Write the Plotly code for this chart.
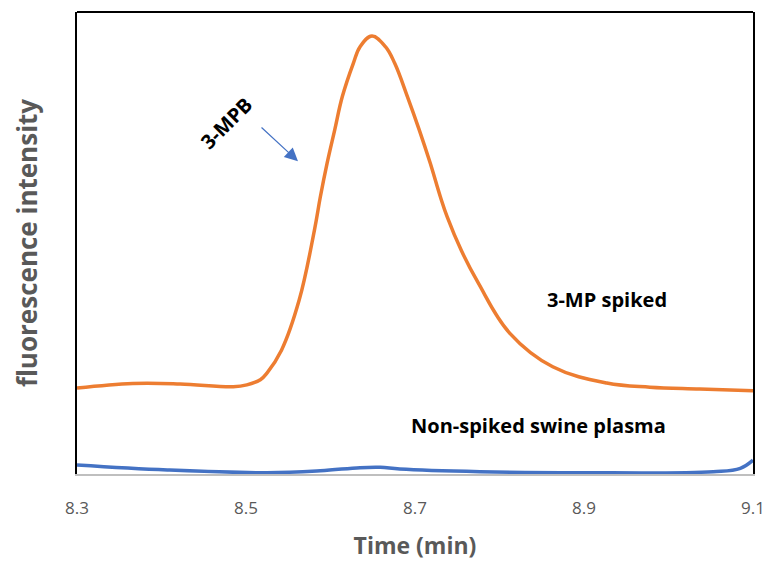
import plotly.graph_objects as go

# spiked sample (orange)
spiked_time = [8.300, 8.366, 8.422, 8.485, 8.501, 8.517, 8.525, 8.542, 8.563,
               8.581, 8.588, 8.596, 8.605, 8.614, 8.627, 8.635, 8.649,
               8.665, 8.676, 8.691, 8.705, 8.718, 8.730, 8.738, 8.755,
               8.775, 8.812, 8.863, 8.927, 8.978, 9.037, 9.100]
spiked_signal = [18.6, 19.6, 19.5, 18.9, 19.3, 20.4, 21.9, 26.8, 37.7,
                 52.8, 60.0, 67.3, 74.5, 81.7, 88.9, 92.5, 94.8,
                 92.5, 88.9, 81.7, 74.5, 67.3, 60.0, 55.7, 48.3,
                 41.3, 30.5, 23.2, 19.7, 18.8, 18.4, 18.0]

# non-spiked plasma (blue)
blank_time = [8.300, 8.407, 8.525, 8.588, 8.635, 8.659, 8.682, 8.777, 8.895, 9.053, 9.085, 9.100]
blank_signal = [1.95, 0.87, 0.28, 0.7, 1.37, 1.45, 1.08, 0.5, 0.28, 0.5, 1.23, 3.0]

x_ticks = [8.3, 8.5, 8.7, 8.9, 9.1]

fig = go.Figure()
fig.add_trace(go.Scatter(x=spiked_time, y=spiked_signal, mode='lines',
                         line=dict(color='#ED7D31', width=3.5, shape='spline', smoothing=1.1),
                         name='3-MP spiked'))
fig.add_trace(go.Scatter(x=blank_time, y=blank_signal, mode='lines',
                         line=dict(color='#4472C4', width=3.5, shape='spline', smoothing=1.1),
                         name='Non-spiked swine plasma'))

lbl = dict(family='Open Sans', size=20, color='black')
fig.add_annotation(x=8.4775, y=76, text='<b>3-MPB</b>', showarrow=False, textangle=-45, font=lbl)
fig.add_annotation(x=8.5615, y=67.7, ax=8.5166, ay=75.3, axref='x', ayref='y', text='',
                   showarrow=True, arrowhead=2, arrowsize=2.2, arrowwidth=1.2, arrowcolor='#4472C4')
fig.add_annotation(x=8.927, y=37.7, text='<b>3-MP spiked</b>', showarrow=False, font=lbl)
fig.add_annotation(x=8.8456, y=10.6, text='<b>Non-spiked swine plasma</b>', showarrow=False, font=lbl)

# top frame line
fig.add_shape(type='line', xref='paper', yref='paper', x0=0, x1=1, y0=1, y1=1,
              line=dict(color='black', width=2))

fig.update_layout(
    width=770, height=571,
    margin=dict(l=77, r=17, t=12, b=97),
    plot_bgcolor='white', paper_bgcolor='white',
    showlegend=False,
    font=dict(family='Open Sans', color='#595959'),
    xaxis=dict(range=[8.3, 9.1], tickvals=x_ticks, ticktext=[str(v) for v in x_ticks],
               showgrid=False, zeroline=False, showline=True, linecolor='#BFBFBF', linewidth=2,
               ticks='', ticklabelstandoff=18, tickfont=dict(size=17, color='#595959'),
               automargin=False,
               title=dict(text='<b>Time (min)</b>', font=dict(size=23, color='#595959'), standoff=19)),
    yaxis=dict(range=[0, 100], showticklabels=False, showgrid=False, zeroline=False,
               showline=True, mirror=True, linecolor='black', linewidth=2, ticks='',
               automargin=False,
               title=dict(text='<b>fluorescence intensity</b>', font=dict(size=26, color='#595959'),
                          standoff=30)),
)

# drop the default body margin so the figure sits at the page corner
fig.write_html("out.html", config={'displayModeBar': False},
               post_script="document.body.style.margin='0';")
